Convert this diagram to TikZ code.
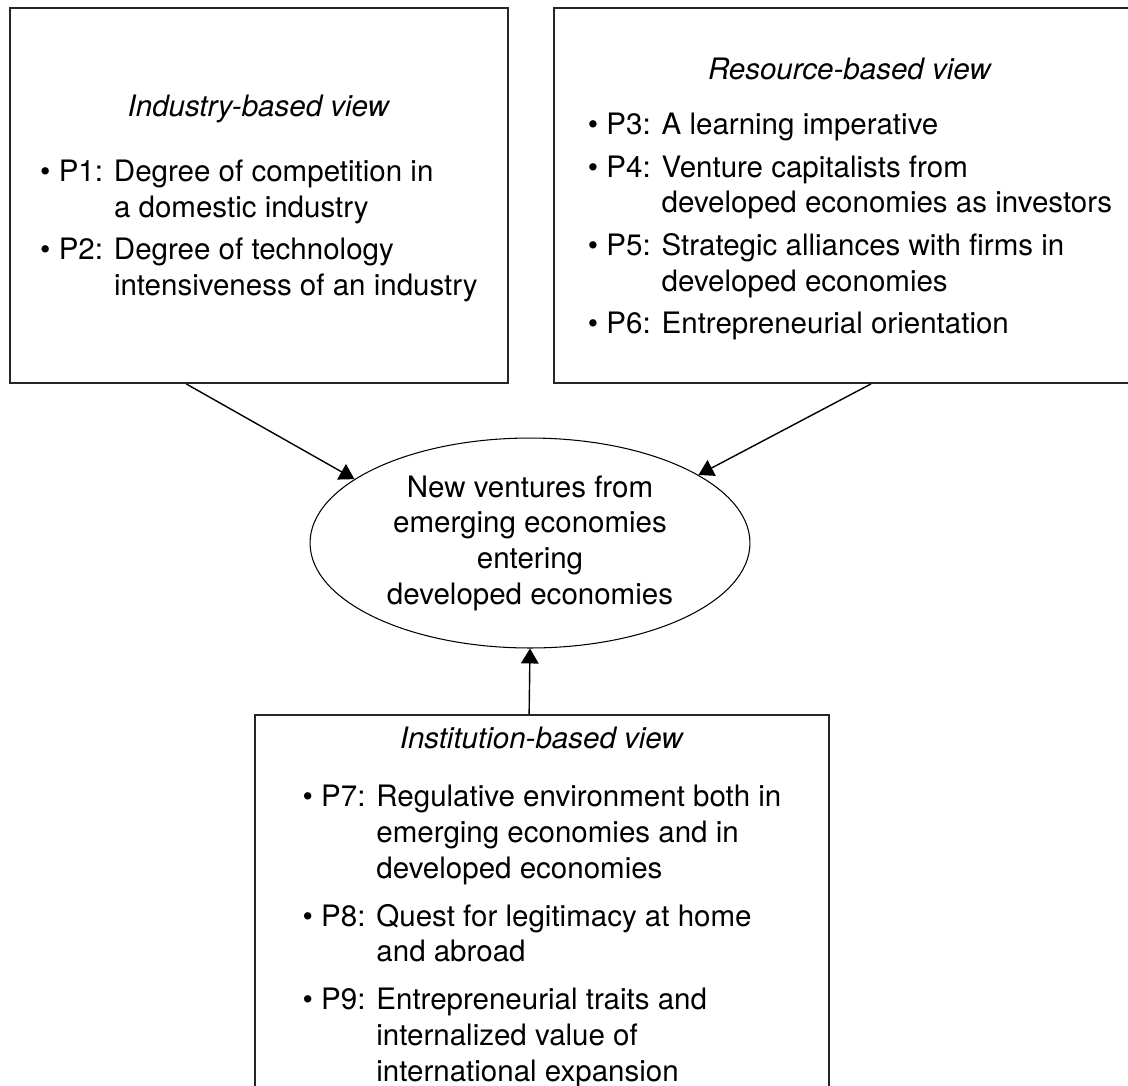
\documentclass[tikz,border=0pt]{standalone}
\usepackage{fontspec}
\setmainfont{TeX Gyre Heros}
\usetikzlibrary{shapes.geometric,arrows.meta}

\newcommand{\figfont}{\fontsize{16.8}{20.3}\selectfont}

\begin{document}
\begin{tikzpicture}[x=0.02cm, y=-0.02cm,
    viewbox/.style={draw=black!85, line width=1pt, align=center, inner sep=0pt, font=\figfont},
    outcome/.style={ellipse, draw, line width=0.6pt, align=center, inner sep=0pt,
        minimum width=8.8cm, minimum height=4.2cm, font=\figfont},
    link/.style={line width=0.8pt, -{Triangle[length=8.5pt,width=10pt]}}]
    \useasboundingbox (0,0) rectangle (1128,1085);
    % the three views
    \node[viewbox, minimum width=9.96cm, minimum height=7.5cm] (ibv) at (259,195.5) {%
        \rule{0pt}{18pt}\textit{Industry-based view}\\[18pt]
        \begin{tabular}{@{}l@{ }l@{}}
        \textbullet\ P1: & Degree of competition in\\
                         & a domestic industry\\[4pt]
        \textbullet\ P2: & Degree of technology\\
                         & intensiveness of an industry
        \end{tabular}};
    \node[viewbox, minimum width=11.84cm, minimum height=7.5cm] (rbv) at (850,195.5) {%
        \rule{0pt}{18.7pt}\textit{Resource-based view}\\[16pt]
        \begin{tabular}{@{}l@{ }l@{}}
        \textbullet\ P3: & A learning imperative\\[4pt]
        \textbullet\ P4: & Venture capitalists from\\
                         & developed economies as investors\\[4pt]
        \textbullet\ P5: & Strategic alliances with firms in\\
                         & developed economies\\[4pt]
        \textbullet\ P6: & Entrepreneurial orientation
        \end{tabular}};
    \node[viewbox, minimum width=11.48cm, minimum height=7.78cm] (inbv) at (542,909.5) {%
        \textit{Institution-based view}\\[17.5pt]
        \begin{tabular}{@{}l@{ }l@{}}
        \textbullet\ P7: & Regulative environment both in\\
                         & emerging economies and in\\
                         & developed economies\\[7pt]
        \textbullet\ P8: & Quest for legitimacy at home\\
                         & and abroad\\[7pt]
        \textbullet\ P9: & Entrepreneurial traits and\\
                         & internalized value of\\
                         & international expansion
        \end{tabular}};
    % outcome
    \node[outcome] (nv) at (530,543) {New ventures from\\emerging economies\\entering\\developed economies};
    \draw[link] ([xshift=3.54cm]ibv.south west) -- (nv.160);
    \draw[link] ([xshift=6.36cm]rbv.south west) -- (nv.22);
    \draw[link] ([xshift=5.5cm]inbv.north west) -- (nv.south);
\end{tikzpicture}
\end{document}
